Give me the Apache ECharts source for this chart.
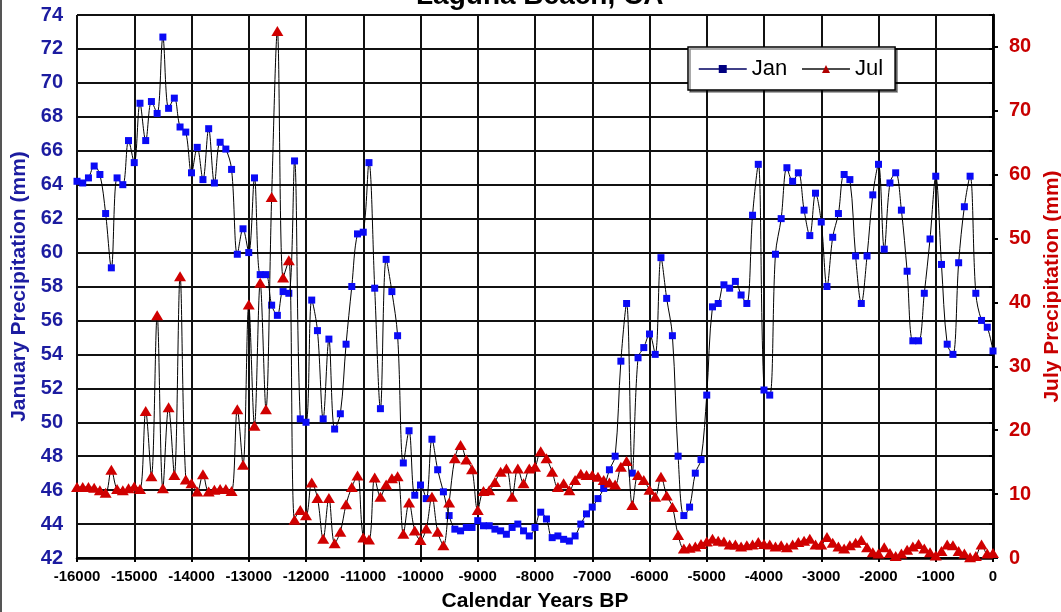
<!DOCTYPE html>
<html><head><meta charset="utf-8">
<script src="https://cdn.jsdelivr.net/npm/echarts@6/dist/echarts.min.js"></script>
<style>html,body{margin:0;padding:0;background:#fff;overflow:hidden}#c{width:1061px;height:612px;position:relative}#edge{position:absolute;left:0;top:0;width:2px;height:612px;background:#555}</style>
</head><body><div id="c"></div><div id="edge"></div>
<script>
// Calendar years BP (x values)
const years = [
-16000,-15900,-15800,-15700,-15600,-15500,-15400,-15300,-15200,-15100,
-15000,-14900,-14800,-14700,-14600,-14500,-14400,-14300,-14200,-14100,
-14000,-13900,-13800,-13700,-13600,-13500,-13400,-13300,-13200,-13100,
-13000,-12900,-12800,-12700,-12600,-12500,-12400,-12300,-12200,-12100,
-12000,-11900,-11800,-11700,-11600,-11500,-11400,-11300,-11200,-11100,
-11000,-10900,-10800,-10700,-10600,-10500,-10400,-10300,-10200,-10100,
-10000,-9900,-9800,-9700,-9600,-9500,-9400,-9300,-9200,-9100,
-9000,-8900,-8800,-8700,-8600,-8500,-8400,-8300,-8200,-8100,
-8000,-7900,-7800,-7700,-7600,-7500,-7400,-7300,-7200,-7100,
-7000,-6900,-6800,-6700,-6600,-6500,-6400,-6300,-6200,-6100,
-6000,-5900,-5800,-5700,-5600,-5500,-5400,-5300,-5200,-5100,
-5000,-4900,-4800,-4700,-4600,-4500,-4400,-4300,-4200,-4100,
-4000,-3900,-3800,-3700,-3600,-3500,-3400,-3300,-3200,-3100,
-3000,-2900,-2800,-2700,-2600,-2500,-2400,-2300,-2200,-2100,
-2000,-1900,-1800,-1700,-1600,-1500,-1400,-1300,-1200,-1100,
-1000,-900,-800,-700,-600,-500,-400,-300,-200,-100,
0];
// January precipitation (mm), left axis
const jan = [
64.2,64.1,64.4,65.1,64.6,62.3,59.1,64.4,64.0,66.6,
65.3,68.8,66.6,68.9,68.2,72.7,68.5,69.1,67.4,67.1,
64.7,66.2,64.3,67.3,64.1,66.5,66.1,64.9,59.9,61.4,
60.0,64.4,58.7,58.7,56.9,56.3,57.7,57.6,65.4,50.2,
50.0,57.2,55.4,50.2,54.9,49.6,50.5,54.6,58.0,61.1,
61.2,65.3,57.9,50.8,59.6,57.7,55.1,47.6,49.5,45.7,
46.3,45.5,49.0,47.2,45.9,44.5,43.7,43.6,43.8,43.8,
44.2,43.9,43.9,43.7,43.6,43.4,43.8,44.0,43.6,43.3,
43.8,44.7,44.3,43.2,43.3,43.1,43.0,43.3,44.0,44.6,
45.0,45.5,46.1,47.2,48.0,53.6,57.0,47.0,53.8,54.4,
55.2,54.0,59.7,57.3,55.1,48.0,44.5,45.0,47.0,47.8,
51.6,56.8,57.0,58.1,57.9,58.3,57.5,57.0,62.2,65.2,
51.9,51.6,59.9,62.0,65.0,64.2,64.7,62.5,61.0,63.5,
61.8,58.0,60.9,62.3,64.6,64.3,59.8,57.0,59.8,63.4,
65.2,60.2,64.1,64.7,62.5,58.9,54.8,54.8,57.6,60.8,
64.5,59.3,54.6,54.0,59.4,62.7,64.5,57.6,56.0,55.6,
54.2];
// July precipitation (mm), right axis
const jul = [
11.1,11.1,11.1,11.0,10.6,10.2,13.8,10.8,10.6,10.9,
11.2,10.8,23.0,12.8,38.0,10.9,23.6,13.0,44.1,12.3,
11.7,10.4,13.1,10.4,10.7,10.8,10.8,10.5,23.3,14.6,
39.7,20.7,43.1,23.3,56.5,82.5,43.9,46.6,6.0,7.5,
6.7,11.8,9.4,3.0,9.4,2.3,4.1,8.4,11.1,12.9,
3.2,2.9,12.6,9.6,11.5,12.5,12.8,3.8,8.7,4.3,
2.8,4.6,9.6,4.1,2.0,8.7,15.6,17.7,15.4,13.9,
7.5,10.5,10.6,11.9,13.5,14.0,9.6,14.0,11.7,14.0,
14.3,16.7,15.6,13.5,11.1,11.7,10.6,12.2,13.2,13.0,
13.0,12.7,12.2,11.8,11.5,14.3,15.2,8.3,13.0,12.2,
10.7,9.6,12.7,9.8,8.0,3.6,1.5,1.6,1.8,2.2,
2.6,3.0,2.7,2.6,2.1,2.1,1.8,2.0,2.1,2.5,
2.2,2.1,1.8,2.0,1.7,2.1,2.5,2.7,3.0,2.1,
2.1,3.3,2.4,1.8,1.5,2.0,2.4,2.8,1.7,0.9,
0.7,1.7,0.8,0.3,0.7,1.3,1.8,2.2,1.5,0.9,
0.4,1.1,2.1,2.0,1.1,0.7,0.1,0.3,2.1,0.7,
0.8];

const FONT = '"Liberation Sans", Arial, Helvetica, sans-serif';
const BLUE = '#1c1ca0';
const RED = '#c80000';
const chart = echarts.init(document.getElementById('c'), null, {renderer: 'canvas'});
chart.setOption({
  animation: false,
  backgroundColor: '#fff',
  title: {
    text: 'Laguna Beach, CA', left: 416, top: -18, padding: 0,
    textStyle: {fontFamily: FONT, fontWeight: 'bold', fontSize: 28, color: '#000'}
  },
  legend: {
    data: [
      {name: 'Jan', itemStyle: {color: '#000080'}, lineStyle: {color: '#000060', width: 1.5}},
      {name: 'Jul', itemStyle: {color: '#b00000'}, lineStyle: {color: '#111', width: 1.5}}
    ],
    left: 688, top: 47, orient: 'horizontal',
    itemWidth: 48, itemHeight: 10, itemGap: 14,
    padding: [11, 12, 10, 10],
    borderColor: '#000', borderWidth: 1.5, backgroundColor: '#fff',
    shadowColor: 'rgba(0,0,0,0.45)', shadowOffsetX: 2, shadowOffsetY: 2, shadowBlur: 0,
    textStyle: {fontFamily: FONT, fontSize: 22, color: '#000'}
  },
  grid: {left: 77, right: 68, top: 15, bottom: 54, outerBoundsMode: 'none', containLabel: false},
  xAxis: {
    type: 'value', min: -16000, max: 0, interval: 1000,
    axisLine: {show: true, lineStyle: {color: '#000', width: 2.5}},
    axisTick: {show: true, length: 4, lineStyle: {color: '#000', width: 2}},
    axisLabel: {formatter: v => String(v), color: '#000', fontFamily: FONT, fontWeight: 'bold', fontSize: 15, margin: 11},
    splitLine: {show: true, lineStyle: {color: '#111', width: 2}},
    name: 'Calendar Years BP', nameLocation: 'middle', nameGap: 33,
    nameTextStyle: {fontFamily: FONT, fontWeight: 'bold', fontSize: 21, color: '#000'}
  },
  yAxis: [
    {
      type: 'value', position: 'left', min: 42, max: 74, interval: 2,
      axisLine: {show: true, lineStyle: {color: '#000', width: 2.5}},
      axisTick: {show: true, length: 4, lineStyle: {color: '#000', width: 2}},
      axisLabel: {color: BLUE, fontFamily: FONT, fontWeight: 'bold', fontSize: 20, margin: 14},
      splitLine: {show: true, lineStyle: {color: '#111', width: 2}},
      name: 'January Precipitation (mm)', nameLocation: 'middle', nameRotate: 90, nameGap: 46,
      nameTextStyle: {fontFamily: FONT, fontWeight: 'bold', fontSize: 21, color: BLUE}
    },
    {
      type: 'value', position: 'right', min: 0, max: 85, interval: 10,
      axisLine: {show: true, lineStyle: {color: '#000', width: 2.5}},
      axisTick: {show: true, length: 5, lineStyle: {color: '#000', width: 2}},
      axisLabel: {color: RED, fontFamily: FONT, fontWeight: 'bold', fontSize: 20, margin: 16, showMaxLabel: false},
      splitLine: {show: false},
      name: 'July Precipitation (mm)', nameLocation: 'middle', nameRotate: 90, nameGap: 42,
      nameTextStyle: {fontFamily: FONT, fontWeight: 'bold', fontSize: 21, color: RED}
    }
  ],
  series: [
    {
      name: 'Jan', type: 'line', yAxisIndex: 0,
      data: years.map((y, i) => [y, jan[i]]),
      smooth: 0.35, showAllSymbol: true,
      symbol: 'rect', symbolSize: 7,
      itemStyle: {color: '#0a0af5'},
      lineStyle: {color: '#000', width: 1},
      z: 3
    },
    {
      name: 'Jul', type: 'line', yAxisIndex: 1,
      data: years.map((y, i) => [y, jul[i]]),
      smooth: 0.35, showAllSymbol: true,
      symbol: 'triangle', symbolSize: [12, 10],
      itemStyle: {color: '#d00000'},
      lineStyle: {color: '#000', width: 1},
      z: 4
    }
  ]
});
</script>
</body></html>
